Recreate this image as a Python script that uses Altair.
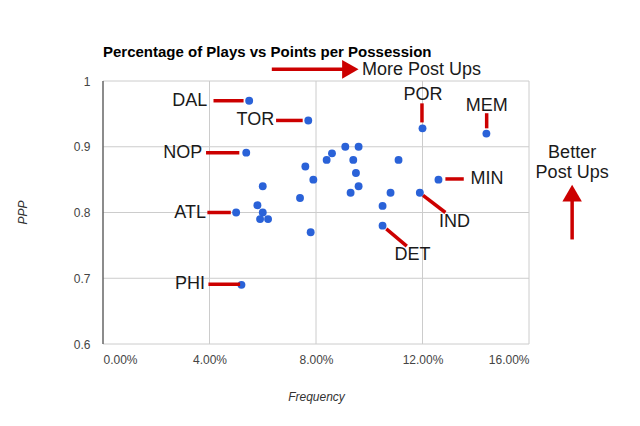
import altair as alt
import pandas as pd

# Scatter data: frequency (share of plays) vs points per possession
freq = [0.0549, 0.0771, 0.0538, 0.050, 0.052, 0.120, 0.144, 0.126, 0.119, 0.105,
        0.060, 0.058, 0.060, 0.059, 0.062, 0.074, 0.078, 0.076, 0.079, 0.084,
        0.086, 0.091, 0.096, 0.094, 0.095, 0.096, 0.093, 0.108, 0.105, 0.111]
ppp = [0.970, 0.940, 0.891, 0.800, 0.690, 0.928, 0.920, 0.850, 0.830, 0.780,
       0.840, 0.811, 0.800, 0.790, 0.790, 0.822, 0.770, 0.870, 0.850, 0.880,
       0.890, 0.900, 0.900, 0.880, 0.860, 0.840, 0.830, 0.830, 0.810, 0.880]

# Axis ticks
x_ticks = [0, 0.04, 0.08, 0.12, 0.16]
y_ticks = [0.6, 0.7, 0.8, 0.9, 1.0]

# Red annotation segments (data coordinates)
seg_x = [0.0415, 0.065, 0.0387, 0.0392, 0.0396, 0.1286, 0.1202, 0.1064, 0.1198, 0.1441, 0.0634, 0.1762]
seg_x2 = [0.0528, 0.075, 0.0512, 0.0480, 0.0515, 0.1355, 0.1286, 0.1141, 0.1198, 0.1441, 0.0905, 0.1762]
seg_y = [0.970, 0.940, 0.891, 0.800, 0.691, 0.851, 0.826, 0.775, 0.966, 0.951, 1.0177, 0.759]
seg_y2 = [0.970, 0.940, 0.891, 0.800, 0.691, 0.851, 0.800, 0.749, 0.937, 0.928, 1.0177, 0.822]

# Labels
lab_right = ["DAL", "TOR", "NOP", "ATL", "PHI"]
lab_right_x = [0.0392, 0.0643, 0.0373, 0.0387, 0.0383]
lab_right_y = [0.970, 0.940, 0.891, 0.800, 0.691]

lab_left = ["MIN", "More Post Ups"]
lab_left_x = [0.1380, 0.0973]
lab_left_y = [0.851, 1.0171]

lab_center = ["IND", "DET", "POR", "MEM", "Better", "Post Ups"]
lab_center_x = [0.1320, 0.1162, 0.1202, 0.1441, 0.1762, 0.1762]
lab_center_y = [0.785, 0.735, 0.978, 0.9617, 0.8904, 0.860]

# Arrow heads
head_right = (0.0929, 1.0177)
head_up = (0.1762, 0.8295)

pts = pd.DataFrame({"x": freq, "y": ppp})
segs = pd.DataFrame({"x": seg_x, "x2": seg_x2, "y": seg_y, "y2": seg_y2})
lr = pd.DataFrame({"x": lab_right_x, "y": lab_right_y, "t": lab_right})
ll = pd.DataFrame({"x": lab_left_x, "y": lab_left_y, "t": lab_left})
lc = pd.DataFrame({"x": lab_center_x, "y": lab_center_y, "t": lab_center})

# Grid lines as polylines (two end points each), built from the tick arrays
grid_rows = []
for i, xv in enumerate(x_ticks[1:]):
    grid_rows.append({"id": f"v{i}", "x": xv, "y": y_ticks[0]})
    grid_rows.append({"id": f"v{i}", "x": xv, "y": y_ticks[-1]})
for j, yv in enumerate(y_ticks):
    grid_rows.append({"id": f"h{j}", "x": x_ticks[0], "y": yv})
    grid_rows.append({"id": f"h{j}", "x": x_ticks[-1], "y": yv})
grid = pd.DataFrame(grid_rows)
yline = pd.DataFrame({"id": ["a", "a"], "x": [x_ticks[0]] * 2, "y": [y_ticks[0], y_ticks[-1]]})

FONT = "Liberation Sans"
xs = alt.Scale(domain=[0, 0.16], nice=False, zero=False)
ys = alt.Scale(domain=[0.6, 1.0], nice=False, zero=False)

AX = dict(grid=False, labelFont=FONT,
          labelFontSize=12, labelColor="#444444", titleFont=FONT,
          titleFontSize=12, titleFontStyle="italic", titleFontWeight="normal",
          titleColor="#333333", ticks=False, domain=False)

X = alt.X("x:Q", scale=xs, title="Frequency",
          axis=alt.Axis(values=x_ticks, format=".2%", labelPadding=10,
                        titleX=213, titleY=52, titleBaseline="middle",
                        titleAlign="center", **AX))
Y = alt.Y("y:Q", scale=ys, title="PPP",
          axis=alt.Axis(values=y_ticks, format=".1~f", labelPadding=13,
                        titleX=-81, titleY=131, titleBaseline="middle",
                        titleAlign="center", titleAngle=-90, **AX))

def xq():
    return alt.X("x:Q", scale=xs)

def yq():
    return alt.Y("y:Q", scale=ys)

grid_layer = alt.Chart(grid).mark_line(color="#cccccc", strokeWidth=1).encode(
    x=X, y=Y, detail="id:N", order="y:Q")
yaxis_layer = alt.Chart(yline).mark_line(color="#666666", strokeWidth=1.5).encode(
    x=xq(), y=yq(), detail="id:N")

pt_layer = alt.Chart(pts).mark_circle(size=62, color="#2a62d8", opacity=1).encode(
    x=xq(), y=yq())

seg_layer = alt.Chart(segs).mark_rule(color="#cc0000", strokeWidth=3.5).encode(
    x=xq(), x2="x2:Q", y=yq(), y2="y2:Q")

def text_layer(df, align):
    return alt.Chart(df).mark_text(align=align, baseline="middle", fontSize=18,
                                   font=FONT, color="#1a1a1a").encode(
        x=xq(), y=yq(), text="t:N")

def head_layer(pos, shape, size):
    df = pd.DataFrame({"x": [pos[0]], "y": [pos[1]]})
    return alt.Chart(df).mark_point(filled=True, color="#cc0000", opacity=1,
                                    size=size, shape=shape).encode(x=xq(), y=yq())

chart = alt.layer(
    grid_layer, yaxis_layer, pt_layer, seg_layer,
    head_layer(head_right, "triangle-right", 360),
    head_layer(head_up, "triangle-up", 380),
    text_layer(lr, "right"), text_layer(ll, "left"), text_layer(lc, "center"),
).properties(
    width=426, height=263,
    background="white",
    title=alt.TitleParams("Percentage of Plays vs Points per Possession",
                          anchor="start", frame="group", fontSize=15,
                          font=FONT, fontWeight="bold", color="#000000",
                          baseline="alphabetic", offset=-12),
    autosize=alt.AutoSizeParams(type="none"),
    padding={"left": 95, "top": 73, "right": 100, "bottom": 70},
).configure_view(stroke=None)

chart.save("out.html", embed_options={"renderer": "svg", "actions": False})
